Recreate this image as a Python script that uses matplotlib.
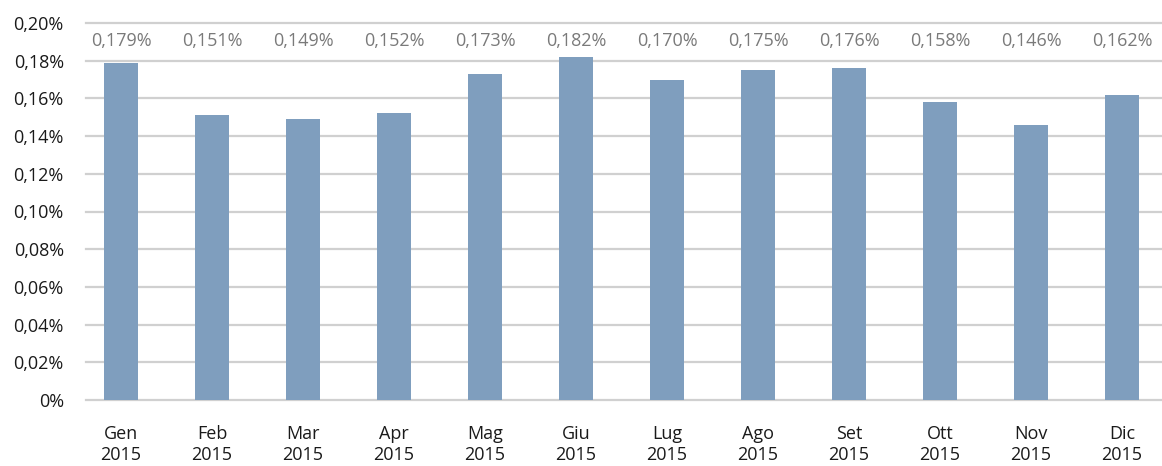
import numpy as np
import matplotlib.pyplot as plt
from matplotlib.ticker import FuncFormatter

# dati mensili 2015
mesi = ['Gen', 'Feb', 'Mar', 'Apr', 'Mag', 'Giu', 'Lug', 'Ago', 'Set', 'Ott', 'Nov', 'Dic']
anni = ['2015'] * 12
valori = [0.179, 0.151, 0.149, 0.152, 0.173, 0.182, 0.170, 0.175, 0.176, 0.158, 0.146, 0.162]
yticks = [0, 0.02, 0.04, 0.06, 0.08, 0.10, 0.12, 0.14, 0.16, 0.18, 0.20]

plt.rcParams['font.family'] = ['Open Sans', 'DejaVu Sans']

fig = plt.figure(figsize=(11.62, 4.66), dpi=100)
ax = fig.add_axes([86 / 1162, 66 / 466, 1 - 86 / 1162, 377 / 466])

x = np.arange(len(mesi))
ax.bar(x, valori, width=0.374, color='#7F9EBE', zorder=3)

# etichette in alto, a quota fissa
for xi, v in zip(x, valori):
    ax.text(xi, 0.1905, ('%.3f%%' % v).replace('.', ','), ha='center', va='center',
            fontsize=13, color='#7A7A7A')

ax.set_xlim(-0.385, 11.44)
ax.set_ylim(0, 0.2)
ax.set_yticks(yticks)

def fmt(v, pos):
    if v == 0:
        return '0%'
    return ('%.2f%%' % v).replace('.', ',')

ax.yaxis.set_major_formatter(FuncFormatter(fmt))
ax.set_xticks(x)
ax.set_xticklabels([m + '\n' + a for m, a in zip(mesi, anni)], linespacing=1.2)

for y in yticks:
    ax.axhline(y, color='#D0D0D0', linewidth=1.6, zorder=1, clip_on=False)

for s in ax.spines.values():
    s.set_visible(False)
ax.tick_params(axis='both', length=0, labelsize=13, colors='#1A1A1A')
ax.tick_params(axis='y', pad=16)
ax.tick_params(axis='x', pad=18)

fig.savefig('out.png', dpi=100)
